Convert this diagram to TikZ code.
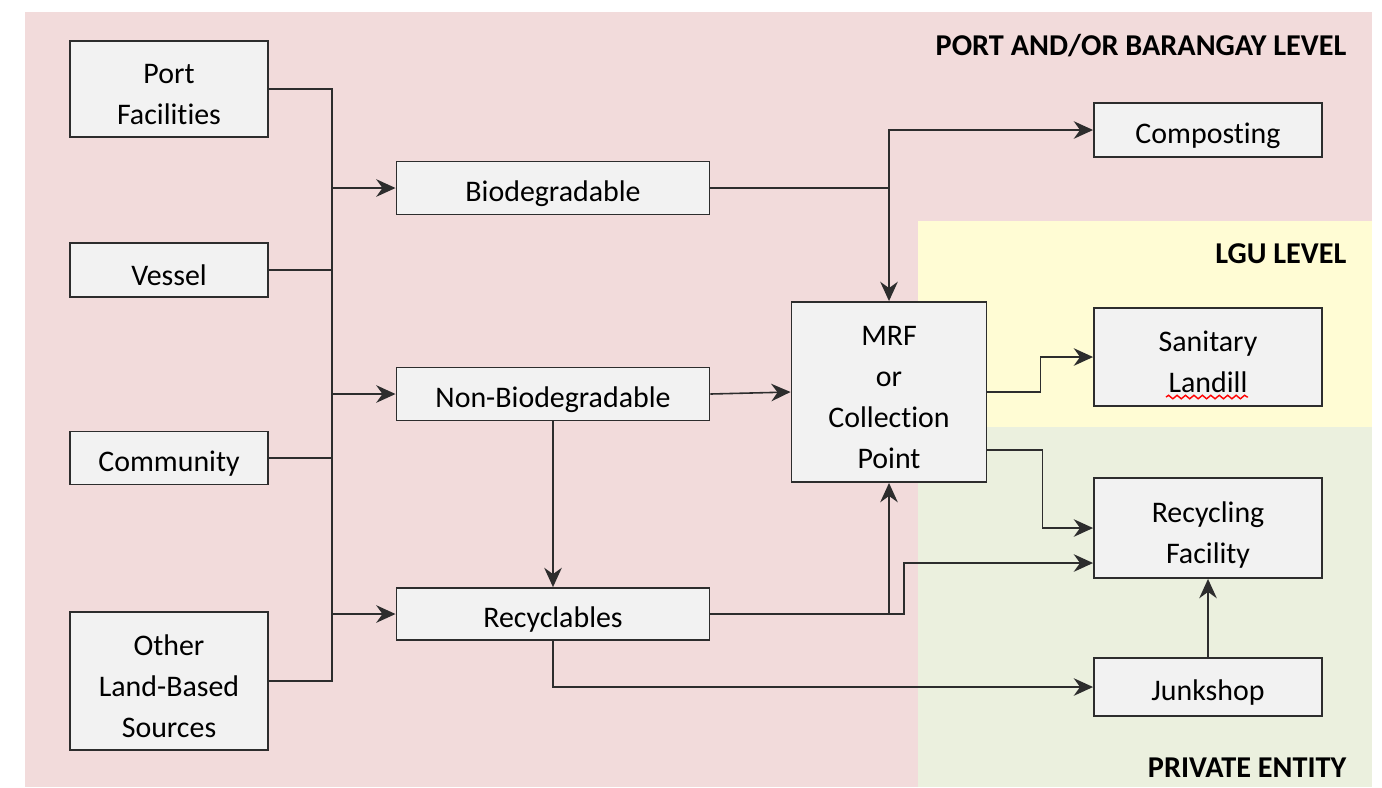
\documentclass[tikz,border=0pt]{standalone}
\usepackage{fontspec}
\setmainfont{Carlito}[Ligatures=NoCommon]
\usetikzlibrary{arrows.meta, decorations.pathmorphing}
\definecolor{portpink}{RGB}{242,219,219}
\definecolor{lguyellow}{RGB}{255,252,212}
\definecolor{privgreen}{RGB}{235,240,222}
\definecolor{boxgray}{RGB}{242,242,242}
\definecolor{linegray}{RGB}{45,45,45}
% stacked lines, sitting a little low in their box
\newcommand{\boxtext}[1]{\raisebox{0pt}[\dimexpr\height+4pt\relax][\depth]{%
  \begin{tabular}{@{}c@{}}#1\end{tabular}}}

\begin{document}
\begin{tikzpicture}[x=0.01cm, y=-0.01cm,
  box/.style={rectangle, draw=linegray, fill=boxgray, line width=0.5pt,
    inner sep=0pt, font=\fontsize{8.5}{11.7}\selectfont},
  single/.style={box, execute at begin node={\rule{0pt}{1.05em}}},
  link/.style={draw=linegray, line width=0.45pt},
  arrow/.style={link, -{Stealth[length=5.5pt, width=5pt, inset=1.8pt]}},
  level/.style={anchor=east, inner sep=0pt, font=\fontsize{8.6}{10}\selectfont\bfseries}
]
\useasboundingbox (0,0) rectangle (1382,787);

% responsibility zones
\fill[portpink] (25,12) rectangle (1372,787);
\fill[lguyellow] (918,221) rectangle (1372,427);
\fill[privgreen] (918,427) rectangle (1372,787);
\node[level] (portlvl) at (1347,46) {PORT AND/OR BARANGAY LEVEL};
\node[level] (lgulvl) at (1347,254) {LGU LEVEL};
\node[level] (privlvl) at (1347,768) {PRIVATE ENTITY};

% sources
\node[box, minimum width=1.98cm, minimum height=0.95cm] (port) at (169,89) {\boxtext{Port\\Facilities}};
\node[single, minimum width=1.98cm, minimum height=0.54cm] (vessel) at (169,270) {Vessel};
\node[single, minimum width=1.98cm, minimum height=0.53cm] (community) at (169,458) {Community};
\node[box, minimum width=1.98cm, minimum height=1.37cm] (other) at (169,681) {\boxtext{Other\\Land-Based\\Sources}};

% waste streams
\node[single, minimum width=3.13cm, minimum height=0.53cm] (bio) at (553,188) {Biodegradable};
\node[single, minimum width=3.13cm, minimum height=0.53cm] (nonbio) at (553,394) {Non-Biodegradable};
\node[single, minimum width=3.13cm, minimum height=0.52cm] (recyc) at (553,614) {Recyclables};
\node[box, minimum width=1.95cm, minimum height=1.80cm] (mrf) at (889,392) {\boxtext{MRF\\or\\Collection\\Point}};

% destinations
\node[single, minimum width=2.28cm, minimum height=0.54cm] (compost) at (1208,130) {Composting};
\node[box, minimum width=2.28cm, minimum height=0.98cm] (sanitary) at (1208,357) {\boxtext{Sanitary\\Landill}};
\node[box, minimum width=2.28cm, minimum height=1.00cm] (recfac) at (1208,528) {\boxtext{Recycling\\Facility}};
\node[single, minimum width=2.28cm, minimum height=0.58cm] (junk) at (1208,687) {Junkshop};
\draw[red, line width=0.4pt, decorate, decoration={snake, amplitude=0.5pt, segment length=2.4pt}]
  ([shift={(-0.42cm,-0.40cm)}]sanitary.center) -- ([shift={(0.40cm,-0.40cm)}]sanitary.center);

% collection bus
\coordinate (bustop) at (332,89);
\coordinate (busbot) at (332,681);
\draw[link] (port.east) -- (bustop) -- (busbot) -- (other.east);
\draw[link] (vessel.east) -- (vessel.east -| bustop);
\draw[link] (community.east) -- (community.east -| bustop);
\draw[arrow] (bio.west -| bustop) -- (bio.west);
\draw[arrow] (nonbio.west -| bustop) -- (nonbio.west);
\draw[arrow] (recyc.west -| bustop) -- (recyc.west);

% flows
\draw[arrow] (bio.east) -| (mrf.north);
\draw[arrow] (bio.east -| mrf.north) |- (compost.west);
\draw[arrow] (nonbio.east) -- (mrf.west);
\draw[arrow] (nonbio.south) -- (recyc.north);
\draw[arrow] (recyc.east) -| (mrf.south);
\coordinate (kink) at (904,563);
\draw[arrow] (recyc.east) -| (kink) -- (kink -| recfac.west);
\draw[arrow] (mrf.east) -- ++(53,0) |- (sanitary.west);
\draw[arrow] ([yshift=-0.58cm]mrf.east) -- ++(55,0) |- (recfac.west);
\draw[arrow] (recyc.south) |- (junk.west);
\draw[arrow] (junk.north) -- (recfac.south);
\end{tikzpicture}
\end{document}
